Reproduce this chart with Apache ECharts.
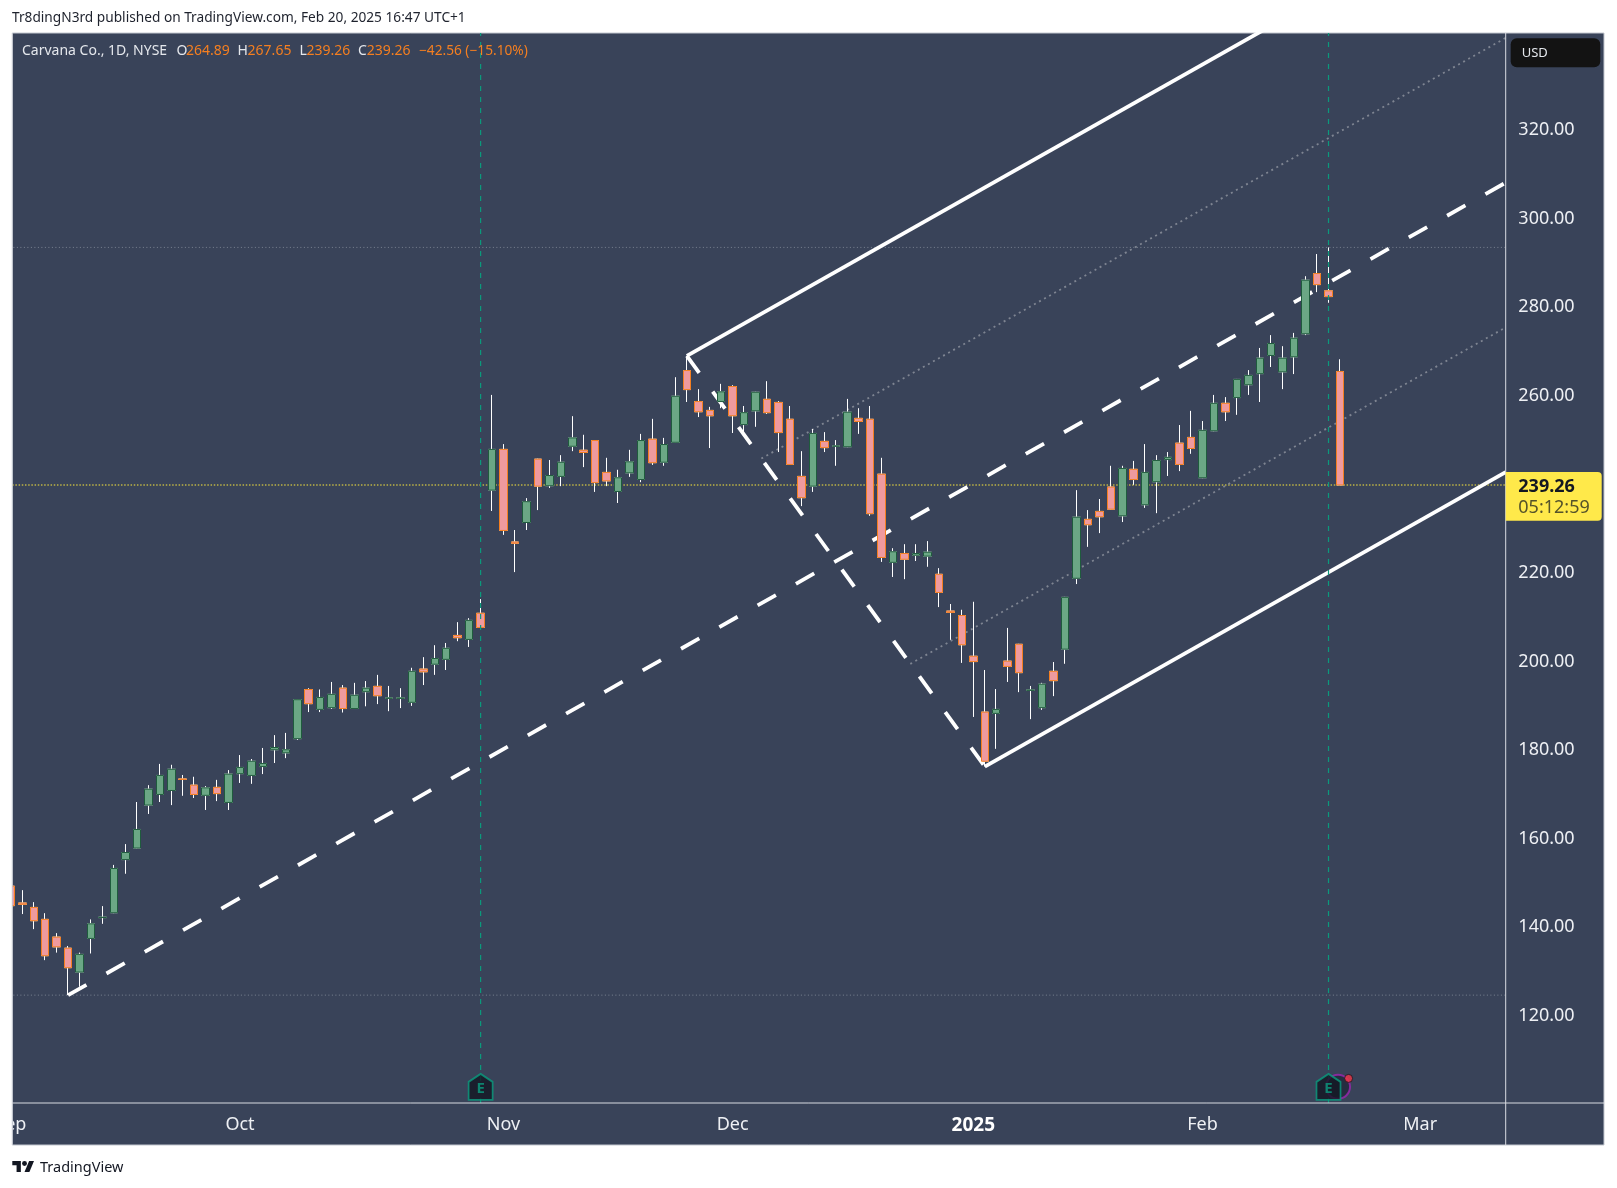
<!DOCTYPE html>
<html><head><meta charset="utf-8">
<style>html,body{margin:0;padding:0;background:#fff}#c{width:1617px;height:1188px}</style>
<script src="https://cdn.jsdelivr.net/npm/echarts@6/dist/echarts.min.js"></script>
</head><body><div id="c"></div>
<script>
const opens=[148.7,144.9,143.9,141.2,137.2,134.7,129.3,136.9,141.6,142.7,
154.7,157.3,167.0,169.4,170.3,172.9,171.5,169.2,171.0,167.6,
174.1,173.7,175.7,179.5,178.8,182.0,193.1,188.6,189.0,193.4,
188.8,192.6,193.8,191.1,191.1,190.2,197.7,198.8,199.9,205.3,
204.4,210.3,238.1,247.3,226.4,230.8,245.1,239.1,241.2,248.0,
247.1,249.3,242.1,237.8,242.0,240.5,249.6,244.4,248.9,265.1,
258.1,256.1,258.1,261.5,252.9,256.0,258.6,257.9,254.1,241.2,
239.0,249.1,248.0,247.9,254.3,254.1,241.7,221.8,223.8,223.4,
223.2,219.1,210.8,209.8,200.6,188.0,187.7,199.5,203.3,192.9,
189.0,197.2,202.2,218.2,231.5,233.3,238.8,232.3,242.8,234.8,
240.0,245.0,248.7,250.0,240.9,251.5,257.7,259.0,261.9,264.4,
268.5,264.8,268.2,273.4,287.0,283.1,264.89];
const closes=[144.3,144.6,140.9,133.0,135.0,130.3,133.3,140.2,141.7,152.7,
156.3,161.5,170.6,173.7,175.1,172.8,169.4,170.9,169.6,174.0,
175.5,176.9,176.4,180.0,179.5,190.8,189.9,191.3,192.0,188.8,
191.8,193.4,191.7,191.2,191.2,197.2,197.1,200.1,202.4,204.8,
208.7,207.1,247.3,229.0,226.1,235.5,239.0,241.4,244.4,249.9,
246.6,239.8,240.2,240.9,244.5,249.3,244.3,248.4,259.3,260.8,
255.8,254.9,260.3,254.9,255.6,260.2,255.6,251.1,243.9,236.4,
250.9,247.7,248.1,255.7,253.6,232.8,222.9,224.2,222.5,223.8,
224.1,215.0,210.5,203.2,199.4,176.9,188.6,198.3,196.9,193.0,
194.3,195.1,213.9,232.0,230.3,232.1,233.8,243.0,240.5,242.1,
244.8,245.5,243.9,247.5,251.6,257.7,255.8,263.1,264.0,267.9,
271.2,267.9,272.4,285.5,284.5,281.8,239.26];
const highs=[149.2,147.8,145.1,142.6,138.1,135.2,133.7,141.2,144.2,153.5,
158.2,167.7,171.5,176.3,176.1,173.8,173.4,171.3,172.7,174.9,
178.3,177.4,179.9,182.8,183.3,190.9,193.4,193.1,194.8,194.1,
194.6,195.0,196.4,193.9,193.4,198.0,200.4,203.1,203.6,208.3,
209.2,213.5,259.6,248.5,229.1,236.3,245.2,244.9,246.0,254.8,
250.6,249.4,245.4,242.7,247.2,250.8,254.2,249.9,263.6,268.4,
260.9,256.9,262.1,261.8,257.1,260.3,262.7,258.2,257.1,246.9,
251.9,251.2,249.4,258.7,256.6,257.1,245.4,225.0,225.9,225.9,
226.6,220.5,212.4,211.1,212.9,197.5,193.2,207.0,203.4,193.9,
194.6,199.3,214.0,238.1,233.6,236.1,243.6,243.6,244.7,248.5,
246.0,246.7,252.8,256.0,253.7,259.6,259.1,263.2,265.2,270.2,
273.1,270.6,273.6,286.4,291.4,292.9,267.65];
const lows=[144.0,142.4,139.0,132.0,133.7,124.1,126.0,133.5,140.2,142.6,
151.5,157.2,165.0,167.7,167.0,169.1,168.6,165.9,167.9,165.9,
172.0,171.8,174.0,176.5,177.6,181.7,188.0,188.0,188.7,187.9,
188.7,189.3,189.8,188.2,188.9,189.4,194.1,196.4,197.5,204.0,
202.7,206.8,233.4,228.0,219.6,229.1,233.6,238.6,239.0,246.9,
243.3,237.7,239.0,235.2,241.1,239.9,243.8,243.6,248.8,258.0,
254.6,247.6,256.6,251.0,251.1,252.4,255.3,246.7,243.8,234.5,
237.7,246.7,243.6,247.8,250.8,232.3,221.9,218.5,218.0,222.1,
220.8,211.7,204.3,199.1,186.9,175.7,179.7,194.8,192.5,186.4,
188.5,191.6,198.9,216.9,225.3,228.4,233.7,230.9,239.3,234.1,
232.9,241.3,242.4,246.3,240.8,251.4,253.7,255.1,259.6,258.0,
265.9,260.9,264.3,273.1,282.8,280.4,239.26];
const xTickIndex=[0,20,43,63,84,104,123];
const xTickLabels=['Sep','Oct','Nov','Dec','2025','Feb','Mar'];
const yTicks=[120,140,160,180,200,220,240,260,280,300,320];
const pivotA=[5,124.1], pivotB=[59,268.4], pivotC=[85,175.7];
const highLevel=292.9, lowLevel=124.1, lastPrice=239.26;
const earningsIndex=[41,115];

const F='"Noto Sans"';
const xMin=-1,xMax=131,xEnd=130.46,yMin=99.75,yMax=341.3;
const PANEL='#394359',WHITE='#ffffff',AXIS='#d9dce2';
const idx=opens.map((_,i)=>i);
const full=idx.map(i=>[i,opens[i],closes[i],lows[i],highs[i]]);
const bodies=idx.map(i=>[i,opens[i],closes[i],Math.min(opens[i],closes[i]),Math.max(opens[i],closes[i])]);
const midBC=[(pivotB[0]+pivotC[0])/2,(pivotB[1]+pivotC[1])/2];
const slope=(midBC[1]-pivotA[1])/(midBC[0]-pivotA[0]);
const ray=p=>[p,[xEnd,p[1]+(xEnd-p[0])*slope]];
const onBC=t=>[pivotB[0]+(pivotC[0]-pivotB[0])*t,pivotB[1]+(pivotC[1]-pivotB[1])*t];
const line=(data,style,z)=>({type:'line',data,symbol:'none',silent:true,animation:false,z:z||3,lineStyle:style,clip:true});
const hline=(v,style)=>line([[xMin,v],[xEnd,v]],style,3);
const vline=v=>line([[v,yMin],[v,yMax]],{color:'#0b9a7c',width:1.2,type:[5,6]},6);
const dashStyle={color:WHITE,width:3.8,type:[21,23]};
const solidStyle={color:WHITE,width:3.8};
const dotStyle={color:'#7f8592',width:1.8,type:[2,3.8]};
const txt=(text,x,y,fill,size,extra)=>({type:'text',z:60,silent:true,style:Object.assign({text,x,y,fill,fontSize:size,fontFamily:F,textVerticalAlign:'middle'},extra||{})});
const iconY=103.4;
const logoX=v=>12.3+v*0.611, logoY=v=>1158.6+v*0.611;
const logoPoly=pts=>({type:'polygon',z:60,silent:true,shape:{points:pts.map(p=>[logoX(p[0]),logoY(p[1])])},style:{fill:'#131722'}});

const option={
 backgroundColor:'#ffffff',animation:false,
 grid:{left:-0.618,top:33,width:1512.46,height:1070,containLabel:false,outerBoundsMode:'none'},
 xAxis:{type:'value',min:xMin,max:xMax,splitLine:{show:false},axisLine:{show:false},axisTick:{show:false},
  axisLabel:{show:true,customValues:xTickIndex,margin:13,color:'#eef0f4',fontFamily:F,fontSize:18,hideOverlap:false,
   formatter:v=>{const l=xTickLabels[xTickIndex.indexOf(v)];return l==='2025'?'{b|'+l+'}':l;},
   rich:{b:{fontWeight:'bold',color:'#ffffff',fontFamily:F,fontSize:19}}}},
 yAxis:{type:'value',position:'right',offset:-6.1,min:yMin,max:yMax,splitLine:{show:false},axisLine:{show:false},axisTick:{show:false},
  axisLabel:{show:true,customValues:yTicks,margin:12.6,color:'#eef0f4',fontFamily:F,fontSize:18,
   formatter:v=>'{a|'+v.toFixed(2)+'}',rich:{a:{padding:[5,0,0,0],color:'#eef0f4',fontFamily:F,fontSize:18}}}},
 series:[
  hline(highLevel,{color:'#7b8492',width:1,type:[1,2.5]}),
  hline(lowLevel,{color:'#7b8492',width:1,type:[1,2.5]}),
  hline(lastPrice,{color:'#ffeb3b',width:1,type:[1.5,1.7]}),
  line(ray(onBC(0.25)),dotStyle),
  line(ray(onBC(0.75)),dotStyle),
  line(ray(pivotA),dashStyle),
  line([pivotB,pivotC],dashStyle),
  line(ray(pivotB),solidStyle),
  line(ray(pivotC),solidStyle),
  {type:'candlestick',data:full,barWidth:8,z:4,silent:true,animation:false,clip:true,
   itemStyle:{color:'transparent',color0:'transparent',borderColor:'#ffffff',borderColor0:'#ffffff',borderColorDoji:'#ffffff',borderWidth:1}},
  {type:'candlestick',data:bodies,barWidth:8,z:5,silent:true,animation:false,clip:true,
   itemStyle:{color:'#6ba785',color0:'#ef9a9e',borderColor:'#1f5b3d',borderColor0:'#f57f20',borderWidth:1}},
  vline(earningsIndex[0]),vline(earningsIndex[1]),
  {type:'scatter',z:7,silent:true,animation:false,data:[[115.83,iconY]],symbol:'circle',symbolSize:24,
   itemStyle:{color:'#20283a',borderColor:'#9c27b0',borderWidth:2}},
  {type:'scatter',z:8,silent:true,animation:false,data:earningsIndex.map(i=>[i,iconY]),
   symbol:'path://M12 0 L24 8 V26 H0 V8 Z',symbolSize:[24,26],
   itemStyle:{color:'#131722',borderColor:'#0a9e80',borderWidth:1.8},
   label:{show:true,position:'inside',formatter:'E',color:'#0a9e80',fontFamily:F,fontSize:15,fontWeight:'bold',offset:[0,2]}},
  {type:'scatter',z:9,silent:true,animation:false,data:[[116.75,105.3]],symbol:'circle',symbolSize:8,
   itemStyle:{color:'#f23645',borderColor:'#131722',borderWidth:1}}
 ],
 graphic:{elements:[
  {type:'rect',z:-10,silent:true,shape:{x:12.3,y:33,width:1591.7,height:1112},style:{fill:PANEL,stroke:'#c4c8d0',lineWidth:1}},
  {type:'rect',z:50,silent:true,shape:{x:0,y:33,width:12,height:1113},style:{fill:'#ffffff'}},
  {type:'line',z:51,silent:true,shape:{x1:12.3,y1:33,x2:12.3,y2:1145},style:{stroke:'#c4c8d0',lineWidth:1}},
  {type:'line',z:51,silent:true,shape:{x1:12.3,y1:1103,x2:1604,y2:1103},style:{stroke:AXIS,lineWidth:1}},
  {type:'line',z:51,silent:true,shape:{x1:1505.7,y1:33,x2:1505.7,y2:1145},style:{stroke:AXIS,lineWidth:1}},
  txt('Tr8dingN3rd published on TradingView.com, Feb 20, 2025 16:47 UTC+1',12,18.5,'#1e222d',13.7),
  txt('Carvana Co., 1D, NYSE',22,51,'#e4e7ec',14),
  txt('O',176.6,51,'#e4e7ec',14),txt('264.89',186,51,'#f57f20',14),
  txt('H',237.6,51,'#e4e7ec',14),txt('267.65',247.6,51,'#f57f20',14),
  txt('L',299.6,51,'#e4e7ec',14),txt('239.26',306.5,51,'#f57f20',14),
  txt('C',358,51,'#e4e7ec',14),txt('239.26',366.7,51,'#f57f20',14),
  txt('−42.56 (−15.10%)',419,51,'#f57f20',13.7),
  {type:'rect',z:55,silent:true,shape:{x:1510.7,y:38.3,width:89.6,height:29,r:6},style:{fill:'#131313'}},
  txt('USD',1521.7,53,'#e4e7ec',13),
  {type:'rect',z:55,silent:true,shape:{x:1505.7,y:472,width:96,height:48.7,r:[0,4,4,0]},style:{fill:'#ffe94a'}},
  txt('239.26',1518.3,487,'#131722',18,{fontWeight:'bold'}),
  txt('05:12:59',1518.3,508,'#55532a',18),
  logoPoly([[14,22],[7,22],[7,11],[0,11],[0,4],[14,4]]),
  logoPoly([[28,22],[20,22],[27.5,4],[35.5,4]]),
  {type:'circle',z:60,silent:true,shape:{cx:logoX(20),cy:logoY(8),r:4*0.611},style:{fill:'#131722'}},
  txt('TradingView',40,1168,'#131722',14.5)
 ]}
};
echarts.init(document.getElementById('c'),null,{renderer:'canvas'}).setOption(option);
</script></body></html>
